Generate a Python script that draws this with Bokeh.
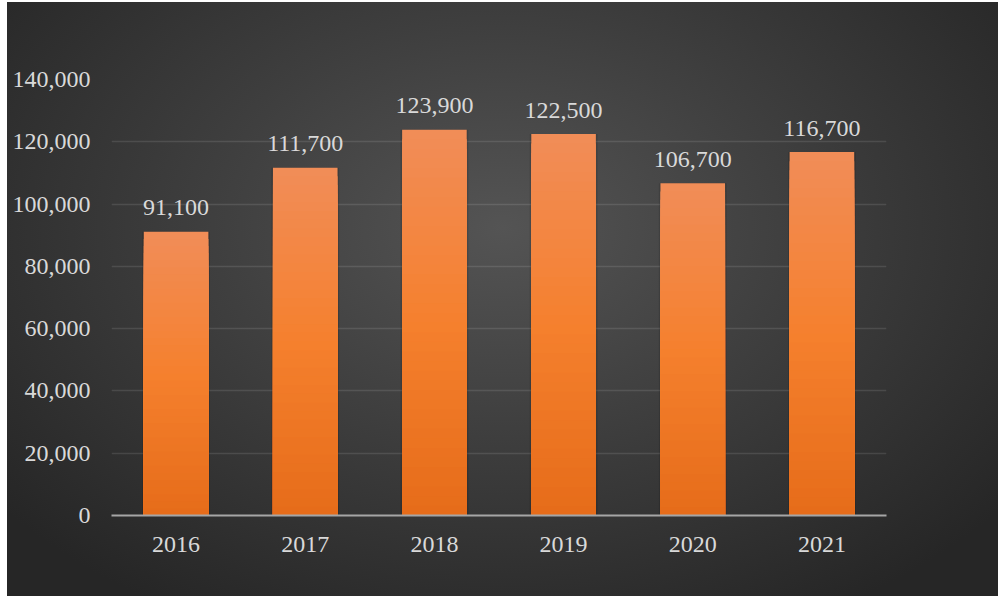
from bokeh.plotting import figure
from bokeh.models import ColumnDataSource, NumeralTickFormatter
from bokeh.core.properties import value
from bokeh.embed import file_html
from bokeh.resources import INLINE

years = ["2016", "2017", "2018", "2019", "2020", "2021"]
sales = [91100, 111700, 123900, 122500, 106700, 116700]
labels = ["91,100", "111,700", "123,900", "122,500", "106,700", "116,700"]
y_ticks = [0, 20000, 40000, 60000, 80000, 100000, 120000, 140000]

FONT = "Liberation Serif"
TEXT = "#D9D9D9"

p = figure(x_range=years, y_range=(0, 140000), width=991, height=594,
           output_backend="svg", toolbar_location=None,
           min_border_left=104, min_border_right=112,
           min_border_top=77, min_border_bottom=81)
p.x_range.range_padding = 0
p.styles = {
    "margin-left": "7px",
    "margin-top": "2px",
    "background": "radial-gradient(ellipse 65% 75% at 50% 38%, #545454 0%, #3f3f3f 45%, #262626 100%)",
}
p.background_fill_alpha = 0
p.border_fill_alpha = 0
p.outline_line_color = None

# soft bar shadow
p.vbar(x=years, top=sales, width=0.525, fill_color="black", fill_alpha=0.12, line_color=None)

# gradient bars: overlapping rectangles from 0 up to a fraction of each bar's own value
N = 40
stops = [(0.0, (0xE6, 0x6C, 0x19)), (0.5, (0xF5, 0x80, 0x2E)), (1.0, (0xF1, 0x8D, 0x58))]

def col(t):
    for (t0, c0), (t1, c1) in zip(stops[:-1], stops[1:]):
        if t0 <= t <= t1:
            f = (t - t0) / (t1 - t0)
            return "#%02x%02x%02x" % tuple(int(round(a + (b - a) * f)) for a, b in zip(c0, c1))
    return "#%02x%02x%02x" % stops[-1][1]

xs, tops, cols = [], [], []
for i in range(N, 0, -1):
    for yr, v in zip(years, sales):
        xs.append(yr)
        tops.append(v * i / N)
        cols.append(col((i - 0.5) / N))
p.vbar(x=xs, bottom=0, top=tops, width=0.5, fill_color=cols, line_color=None)

src = ColumnDataSource(dict(x=years, y=sales, t=labels))
p.text(x="x", y="y", text="t", source=src, text_align="center", text_baseline="alphabetic",
       y_offset=-24, text_font=value(FONT), text_font_size="24px", text_color=TEXT)

p.yaxis.ticker = y_ticks
p.yaxis.formatter = NumeralTickFormatter(format="0,0")
p.yaxis.axis_line_color = None
p.yaxis.major_tick_line_color = None
p.yaxis.minor_tick_line_color = None
p.yaxis.major_label_standoff = 15
p.xaxis.major_tick_line_color = None
p.xaxis.minor_tick_line_color = None
p.xaxis.axis_line_color = "#A6A6A6"
p.xaxis.axis_line_width = 2
p.xaxis.major_label_standoff = 15
for ax in (p.xaxis, p.yaxis):
    ax.major_label_text_font = FONT
    ax.major_label_text_font_size = "24px"
    ax.major_label_text_color = TEXT

p.xgrid.grid_line_color = None
p.ygrid.grid_line_color = "#FFFFFF"
p.ygrid.grid_line_alpha = 0.11
p.ygrid.grid_line_width = 1.5

open("out.html", "w").write(file_html(p, INLINE))
